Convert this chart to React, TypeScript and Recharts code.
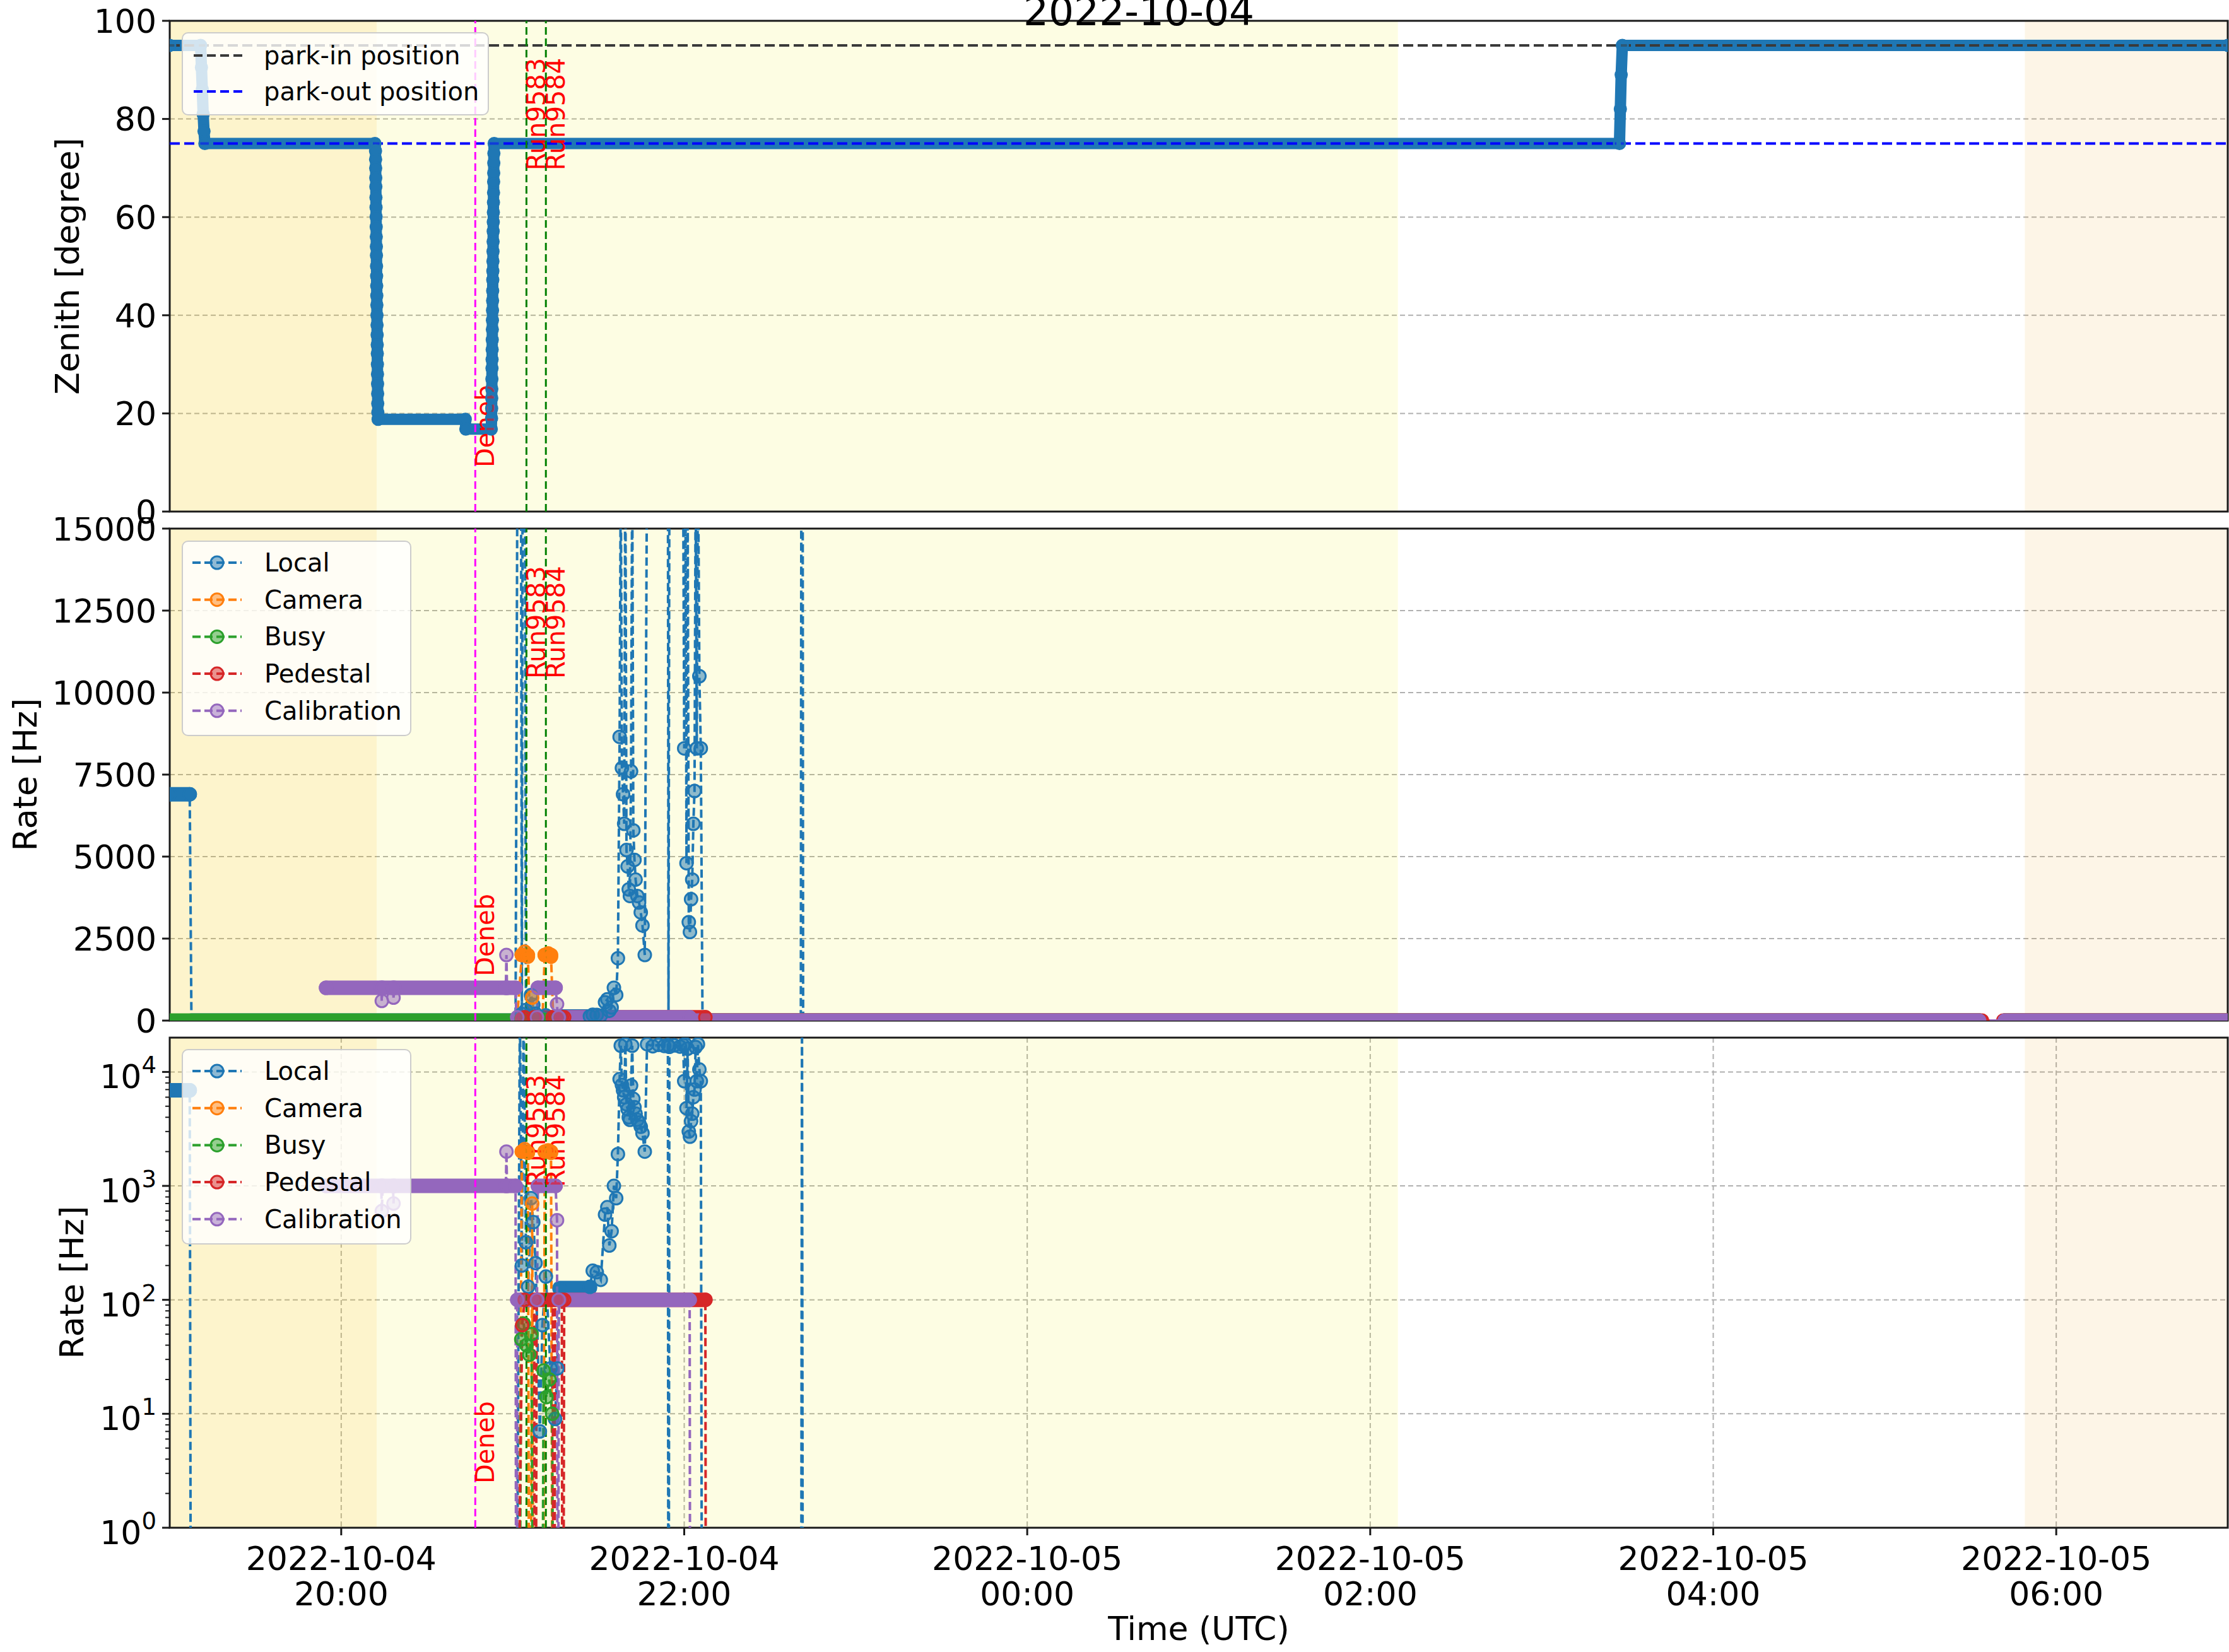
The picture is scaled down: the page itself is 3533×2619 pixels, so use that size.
import React from 'react'
import {
  ComposedChart,
  Line,
  XAxis,
  YAxis,
  CartesianGrid,
  ReferenceLine,
  ReferenceArea,
} from 'recharts'

// time axis is in minutes after 2022-10-04 19:00 UTC
const xTicks = [60, 180, 300, 420, 540, 660]
const xTickDates = ['2022-10-04', '2022-10-04', '2022-10-05', '2022-10-05', '2022-10-05', '2022-10-05']
const xTickTimes = ['20:00', '22:00', '00:00', '02:00', '04:00', '06:00']

const zenithTicks = [0, 20, 40, 60, 80, 100]
const rateTicks = [0, 2500, 5000, 7500, 10000, 12500, 15000]
const logMajorTicks = [1, 10, 100, 1000, 10000]
const logAllTicks = [
  1, 2, 3, 4, 5, 6, 7, 8, 9, 10, 20, 30, 40, 50, 60, 70, 80, 90, 100, 200, 300, 400, 500, 600, 700,
  800, 900, 1000, 2000, 3000, 4000, 5000, 6000, 7000, 8000, 9000, 10000,
]

// twilight shading
const shadeFrom = [0, 72.4, 649]
const shadeTo = [72.4, 429.7, 720]
const shadeColors = ['#f5c800', '#f0f000', '#f0a020']
const shadeAlpha = [0.2, 0.11, 0.11]

const parkIn = 95
const parkOut = 75
const parkLabels = ['park-in position', 'park-out position']
const parkColors = ['#3a3a3a', '#0000ff']

const sourceName = 'Deneb'
const sourceTime = 106.9
const runNames = ['Run9583', 'Run9584']
const runTimes = [124.8, 131.6]

// [minute, zenith deg]
const zenith: [number, number][] = [
  [0, 95], [10.8, 95], [11.1, 90.5], [11.4, 86], [11.7, 81], [12.0, 77.5], [12.3, 75], [71.8, 75],
  [72.0, 73.5], [72.03, 71.8], [72.06, 70], [72.09, 68], [72.12, 66.2], [72.15, 64], [72.18, 62],
  [72.21, 60.1], [72.24, 58], [72.27, 56], [72.3, 54], [72.33, 52.2], [72.36, 50], [72.39, 48],
  [72.42, 46], [72.45, 44], [72.48, 42.1], [72.51, 40], [72.54, 38], [72.57, 36], [72.6, 34],
  [72.63, 32.2], [72.66, 30], [72.69, 28], [72.72, 26], [72.75, 24], [72.78, 22], [72.81, 20.2],
  [72.9, 18.8], [103.4, 18.8], [103.6, 16.8], [112.5, 16.8],
  [112.6, 19], [112.63, 21], [112.66, 23.1], [112.69, 25], [112.72, 27], [112.75, 29.2], [112.78, 31],
  [112.81, 33], [112.84, 35], [112.87, 37.1], [112.9, 39], [112.93, 41], [112.96, 43], [112.99, 45],
  [113.02, 47.2], [113.05, 49], [113.08, 51], [113.11, 53], [113.14, 55], [113.17, 57.1], [113.2, 59],
  [113.23, 61], [113.26, 63], [113.29, 65], [113.32, 67.2], [113.35, 69], [113.38, 71], [113.41, 73],
  [113.5, 75], [507.2, 75], [507.5, 82], [507.8, 89], [508.2, 95], [720, 95],
]

// trigger rates: [minute, Hz]; runs of overlapping markers as [from, to, Hz]
const localPts: [number, number][] = [
  [0, 6900], [7.0, 6900], [7.6, 0], [121.0, 0], [122.5, 40000], [123.2, 200], [123.8, 40000],
  [124.6, 320], [125.4, 130], [126.4, 780], [127.2, 480], [128.0, 210], [129.5, 7], [130.4, 60],
  [131.6, 160], [133.2, 25], [134.8, 9], [135.6, 25], [136.4, 125], [147.0, 130], [148.0, 180],
  [149.4, 175], [150.8, 150], [152.3, 560], [153.1, 650], [153.8, 300], [154.6, 400], [155.4, 1000],
  [156.2, 780], [156.8, 1900], [157.4, 8650], [157.8, 17000], [158.2, 7700], [158.6, 6900],
  [159.0, 6000], [159.4, 17500], [159.8, 5200], [160.2, 4700], [160.6, 4000], [161.0, 3800],
  [161.4, 7600], [161.8, 17000], [162.2, 5800], [162.6, 4900], [163.0, 4300], [163.6, 3800],
  [164.2, 3600], [164.8, 3300], [165.4, 2900], [166.2, 2000], [167.0, 17500], [169.0, 16800],
  [171.0, 17300], [173.0, 16900], [174.3, 17200], [174.5, 0], [174.8, 16600], [176.5, 17100],
  [178.5, 16700], [179.6, 17200], [180.0, 8300], [180.4, 17500], [180.8, 4800], [181.2, 16000],
  [181.6, 3000], [182.0, 2700], [182.4, 3700], [182.8, 4300], [183.2, 6000], [183.6, 7000],
  [184.0, 16500], [184.4, 8300], [184.8, 17500], [185.3, 10500], [185.8, 8300], [186.4, 0],
  [220.8, 0], [221.2, 40000], [221.6, 0], [720, 0],
]
const localBands: [number, number, number][] = [
  [0, 7.0, 6900], [7.6, 121.0, 0], [136.4, 147.0, 127], [186.4, 633, 0], [642, 720, 0],
]

const cameraPts: [number, number][] = [
  [121.5, 0], [123.2, 2000], [124.2, 2100], [125.3, 1950], [126.0, 0], [126.8, 700], [127.5, 0],
  [130.4, 0], [131.2, 2000], [132.4, 2050], [133.4, 1950], [134.2, 0], [720, 0],
]
const cameraBands: [number, number, number][] = [
  [123.2, 125.3, 2000], [131.2, 133.4, 2000], [134.2, 633, 0], [642, 720, 0],
]

const busyPts: [number, number][] = [
  [0, 0], [121.8, 0], [123.0, 45], [123.8, 62], [124.8, 40], [125.8, 33], [126.6, 50], [127.4, 0],
  [130.0, 0], [130.8, 24], [131.8, 14], [132.8, 20], [133.8, 10], [134.6, 0], [720, 0],
]
const busyBands: [number, number, number][] = [[0, 121.8, 0], [134.6, 633, 0], [642, 720, 0]]

const pedestalPts: [number, number][] = [
  [120.5, 0], [123.3, 60], [124.2, 100], [127.5, 100], [127.8, 0], [128.4, 100], [134.0, 100],
  [134.3, 0], [134.9, 100], [137.2, 100], [137.5, 0], [138.0, 100], [187.4, 100], [187.7, 0],
  [634.0, 0], [641.5, 0], [720, 0],
]
const pedestalBands: [number, number, number][] = [
  [124.2, 127.5, 100], [128.4, 134.0, 100], [134.9, 137.2, 100], [138.0, 187.4, 100],
  [187.7, 634.0, 0], [641.5, 720, 0],
]

const calibrationPts: [number, number][] = [
  [54.7, 1000], [74.0, 1000], [74.2, 600], [74.5, 1000], [78.1, 1000], [78.3, 700], [78.6, 1000],
  [117.6, 1000], [117.8, 2000], [118.0, 1000], [121.0, 1000], [121.3, 0], [121.6, 100],
  [128.5, 100], [128.8, 1000], [135.0, 1000], [135.5, 500], [135.8, 0], [136.1, 100],
  [181.9, 100], [182.2, 0], [633.0, 0], [642.0, 0], [720, 0],
]
const calibrationBands: [number, number, number][] = [
  [54.7, 121.0, 1000], [121.6, 128.5, 100], [128.8, 135.0, 1000], [136.1, 181.9, 100],
  [182.2, 633.0, 0], [642.0, 720, 0],
]

const rateSeries = [
  { name: 'Local', color: '#1f77b4', pts: localPts, bands: localBands },
  { name: 'Camera', color: '#ff7f0e', pts: cameraPts, bands: cameraBands },
  { name: 'Busy', color: '#2ca02c', pts: busyPts, bands: busyBands },
  { name: 'Pedestal', color: '#d62728', pts: pedestalPts, bands: pedestalBands },
  { name: 'Calibration', color: '#9467bd', pts: calibrationPts, bands: calibrationBands },
]

const W = 3533
const H = 2619
const LEFT = 269
const RIGHT = 2
const FONT = '"DejaVu Sans", sans-serif'
const INK = '#1a1a1a'
const BLUE = '#1f77b4'
const TICK_SIZE = 12
const TICK_GAP = 9
const MARK_R = 10

type Row = { t: number; v: number | null; raw: number }

// zero can't go on the log axis, push it far below the bottom
const toY = (v: number, log: boolean) => (log && v <= 0 ? 1e-4 : v)

function pointRows(pts: [number, number][], log: boolean): Row[] {
  return pts.map(([t, v]) => ({ t, v: toY(v, log), raw: v }))
}

function bandRows(bands: [number, number, number][], log: boolean): Row[] {
  const out: Row[] = []
  bands.forEach(([a, b, v]) => {
    out.push({ t: a, v: toY(v, log), raw: v })
    out.push({ t: b, v: toY(v, log), raw: v })
    out.push({ t: b, v: null, raw: 0 })
  })
  return out
}

function markers(color: string, r: number) {
  return (props: any) => {
    const { cx, cy, payload, index } = props
    if (cx == null || cy == null || !payload || !(payload.raw > 0)) return <g key={`m${index}`} />
    return (
      <circle key={`m${index}`} cx={cx} cy={cy} r={r} fill={color} fillOpacity={0.5}
        stroke={color} strokeWidth={3} />
    )
  }
}

const numTick = (props: any) => (
  <text x={props.x} y={props.y} dy="0.36em" textAnchor="end" fontSize={52} fontFamily={FONT} fill="#000">
    {props.payload.value}
  </text>
)

const logTick = (props: any) => {
  const { x, y, payload } = props
  const v = payload.value
  const major = logMajorTicks.indexOf(v) >= 0
  const spine = x + TICK_SIZE + TICK_GAP
  return (
    <g>
      <line x1={spine} x2={spine - (major ? TICK_SIZE : 7)} y1={y} y2={y} stroke={INK} strokeWidth={major ? 3 : 2} />
      {major && (
        <text x={x} y={y + 26} textAnchor="end" fontSize={52} fontFamily={FONT} fill="#000">
          10<tspan dy={-24} fontSize={37}>{Math.round(Math.log10(v))}</tspan>
        </text>
      )}
    </g>
  )
}

const timeTick = (props: any) => {
  const { x, y, payload } = props
  const i = xTicks.indexOf(payload.value)
  return (
    <text textAnchor="middle" fontSize={52} fontFamily={FONT} fill="#000">
      <tspan x={x} y={y + 55}>{xTickDates[i]}</tspan>
      <tspan x={x} y={y + 111}>{xTickTimes[i]}</tspan>
    </text>
  )
}

const sideLabel = (text: string, frac: number) => (props: any) => {
  const vb = props.viewBox || {}
  const x = vb.x ?? 0
  const y = vb.y ?? 0
  const h = vb.height ?? 0
  return (
    <text transform={`translate(${x + 30},${y + h * (1 - frac)}) rotate(-90)`} fontSize={40}
      fontFamily={FONT} fill="#ff0000">
      {text}
    </text>
  )
}

function shades() {
  return shadeFrom.map((a, i) => (
    <ReferenceArea key={`shade${i}`} x1={a} x2={shadeTo[i]} fill={shadeColors[i]}
      fillOpacity={shadeAlpha[i]} stroke="none" />
  ))
}

function eventLines() {
  return [
    <ReferenceLine key="src" x={sourceTime} stroke="#ff00ff" strokeWidth={3} strokeDasharray="12 6"
      label={sideLabel(sourceName, 0.09)} />,
    ...runTimes.map((t, i) => (
      <ReferenceLine key={`run${i}`} x={t} stroke="#008000" strokeWidth={3} strokeDasharray="12 6"
        label={sideLabel(runNames[i], 0.695)} />
    )),
  ]
}

function ZenithPanel() {
  const rows = pointRows(zenith, false)
  return (
    <ComposedChart width={W} height={840} margin={{ top: 33, right: RIGHT, bottom: 17, left: 0 }}>
      {shades()}
      <CartesianGrid stroke="#b0b0b0" strokeWidth={2} strokeDasharray="8 5" />
      <XAxis type="number" dataKey="t" domain={[0, 720]} ticks={xTicks} interval={0} allowDataOverflow
        axisLine={false} tickLine={{ stroke: INK, strokeWidth: 3 }} tickSize={TICK_SIZE} tick={false}
        height={TICK_SIZE} />
      <YAxis type="number" domain={[0, 100]} ticks={zenithTicks} interval={0} width={LEFT} allowDataOverflow
        axisLine={false} tickLine={{ stroke: INK, strokeWidth: 3 }} tickSize={TICK_SIZE} tickMargin={TICK_GAP}
        tick={numTick} />
      <Line data={rows} dataKey="v" type="linear" stroke={BLUE} strokeWidth={18} strokeLinejoin="round"
        dot={markers(BLUE, 9)} activeDot={false} isAnimationActive={false} />
      <ReferenceLine y={parkIn} stroke={parkColors[0]} strokeWidth={4} strokeDasharray="16 7" />
      <ReferenceLine y={parkOut} stroke={parkColors[1]} strokeWidth={4} strokeDasharray="16 7" />
      {eventLines()}
      <ReferenceArea x1={0} x2={720} y1={0} y2={100} fill="none" stroke={INK} strokeWidth={3} />
    </ComposedChart>
  )
}

function RatePanel({ log }: { log: boolean }) {
  const yMin = log ? 1 : 0
  const yMax = log ? 20000 : 15000
  const lines = rateSeries.flatMap((s) => [
    <Line key={`${s.name}-pts`} data={pointRows(s.pts, log)} dataKey="v" type="linear" stroke={s.color}
      strokeWidth={4} strokeDasharray="13 6" dot={markers(s.color, MARK_R)} activeDot={false}
      isAnimationActive={false} />,
    <Line key={`${s.name}-band`} data={bandRows(s.bands, log)} dataKey="v" type="linear" stroke={s.color}
      strokeWidth={23} strokeLinecap="round" dot={false} activeDot={false} isAnimationActive={false} />,
  ])
  return (
    <ComposedChart width={W} height={log ? 989 : 830}
      margin={log ? { top: 15, right: RIGHT, bottom: 47, left: 0 } : { top: 18, right: RIGHT, bottom: 20, left: 0 }}>
      {shades()}
      <CartesianGrid stroke="#b0b0b0" strokeWidth={2} strokeDasharray="8 5"
        horizontalValues={log ? logMajorTicks : rateTicks} verticalValues={xTicks} />
      {log ? (
        <XAxis type="number" dataKey="t" domain={[0, 720]} ticks={xTicks} interval={0} allowDataOverflow
          axisLine={false} tickLine={{ stroke: INK, strokeWidth: 3 }} tickSize={TICK_SIZE} tickMargin={0}
          tick={timeTick} height={150}
          label={(p: any) => {
            const vb = p.viewBox || {}
            return (
              <text x={(vb.x ?? 0) + (vb.width ?? 0) / 2} y={(vb.y ?? 0) + 178} textAnchor="middle"
                fontSize={52} fontFamily={FONT} fill="#000">
                Time (UTC)
              </text>
            )
          }} />
      ) : (
        <XAxis type="number" dataKey="t" domain={[0, 720]} ticks={xTicks} interval={0} allowDataOverflow
          axisLine={false} tickLine={{ stroke: INK, strokeWidth: 3 }} tickSize={TICK_SIZE} tick={false}
          height={TICK_SIZE} />
      )}
      <YAxis type="number" scale={log ? 'log' : 'linear'} domain={[yMin, yMax]}
        ticks={log ? logAllTicks : rateTicks} interval={0} width={LEFT} allowDataOverflow axisLine={false}
        tickLine={log ? false : { stroke: INK, strokeWidth: 3 }} tickSize={TICK_SIZE} tickMargin={TICK_GAP}
        tick={log ? logTick : numTick} />
      {lines}
      {eventLines()}
      <ReferenceArea x1={0} x2={720} y1={yMin} y2={yMax} fill="none" stroke={INK} strokeWidth={3} />
    </ComposedChart>
  )
}

function ParkLegend() {
  return (
    <svg style={{ position: 'absolute', left: 288, top: 51 }} width={488} height={133}>
      <rect x={1} y={1} width={485} height={130} rx={9} fill="#fff" fillOpacity={0.8} stroke="#cccccc" strokeWidth={2} />
      {parkLabels.map((lab, i) => (
        <g key={lab}>
          <line x1={19} x2={97} y1={37 + i * 57} y2={37 + i * 57} stroke={parkColors[i]} strokeWidth={4}
            strokeDasharray="14 7" />
          <text x={130} y={37 + i * 57 + 14} fontSize={40} fontFamily={FONT} fill="#000">{lab}</text>
        </g>
      ))}
    </svg>
  )
}

function RateLegend({ top }: { top: number }) {
  return (
    <svg style={{ position: 'absolute', left: 288, top }} width={366} height={312}>
      <rect x={1} y={1} width={362} height={308} rx={9} fill="#fff" fillOpacity={0.8} stroke="#cccccc" strokeWidth={2} />
      {rateSeries.map((s, i) => {
        const cy = 35 + i * 58.7
        return (
          <g key={s.name}>
            <line x1={17} x2={95} y1={cy} y2={cy} stroke={s.color} strokeWidth={4} strokeDasharray="13 6" />
            <circle cx={56} cy={cy} r={MARK_R} fill={s.color} fillOpacity={0.5} stroke={s.color} strokeWidth={3} />
            <text x={131} y={cy + 14} fontSize={40} fontFamily={FONT} fill="#000">{s.name}</text>
          </g>
        )
      })}
    </svg>
  )
}

export default function App() {
  return (
    <div style={{ position: 'absolute', left: 0, top: 0, width: W, height: H, overflow: 'hidden', background: '#fff' }}>
      <div style={{ position: 'absolute', left: 0, top: 0 }}>
        <ZenithPanel />
      </div>
      <div style={{ position: 'absolute', left: 0, top: 820 }}>
        <RatePanel log={false} />
      </div>
      <div style={{ position: 'absolute', left: 0, top: 1630 }}>
        <RatePanel log />
      </div>
      <svg style={{ position: 'absolute', left: 0, top: 0, pointerEvents: 'none' }} width={W} height={H}>
        <text x={1805} y={40} textAnchor="middle" fontSize={63} fontFamily={FONT} fill="#000">2022-10-04</text>
        <text transform="translate(107,422) rotate(-90)" dy="0.35em" textAnchor="middle" fontSize={52}
          fontFamily={FONT} fill="#000">Zenith [degree]</text>
        <text transform="translate(40,1228) rotate(-90)" dy="0.35em" textAnchor="middle" fontSize={52}
          fontFamily={FONT} fill="#000">Rate [Hz]</text>
        <text transform="translate(114,2033) rotate(-90)" dy="0.35em" textAnchor="middle" fontSize={52}
          fontFamily={FONT} fill="#000">Rate [Hz]</text>
      </svg>
      <ParkLegend />
      <RateLegend top={857} />
      <RateLegend top={1663} />
    </div>
  )
}
